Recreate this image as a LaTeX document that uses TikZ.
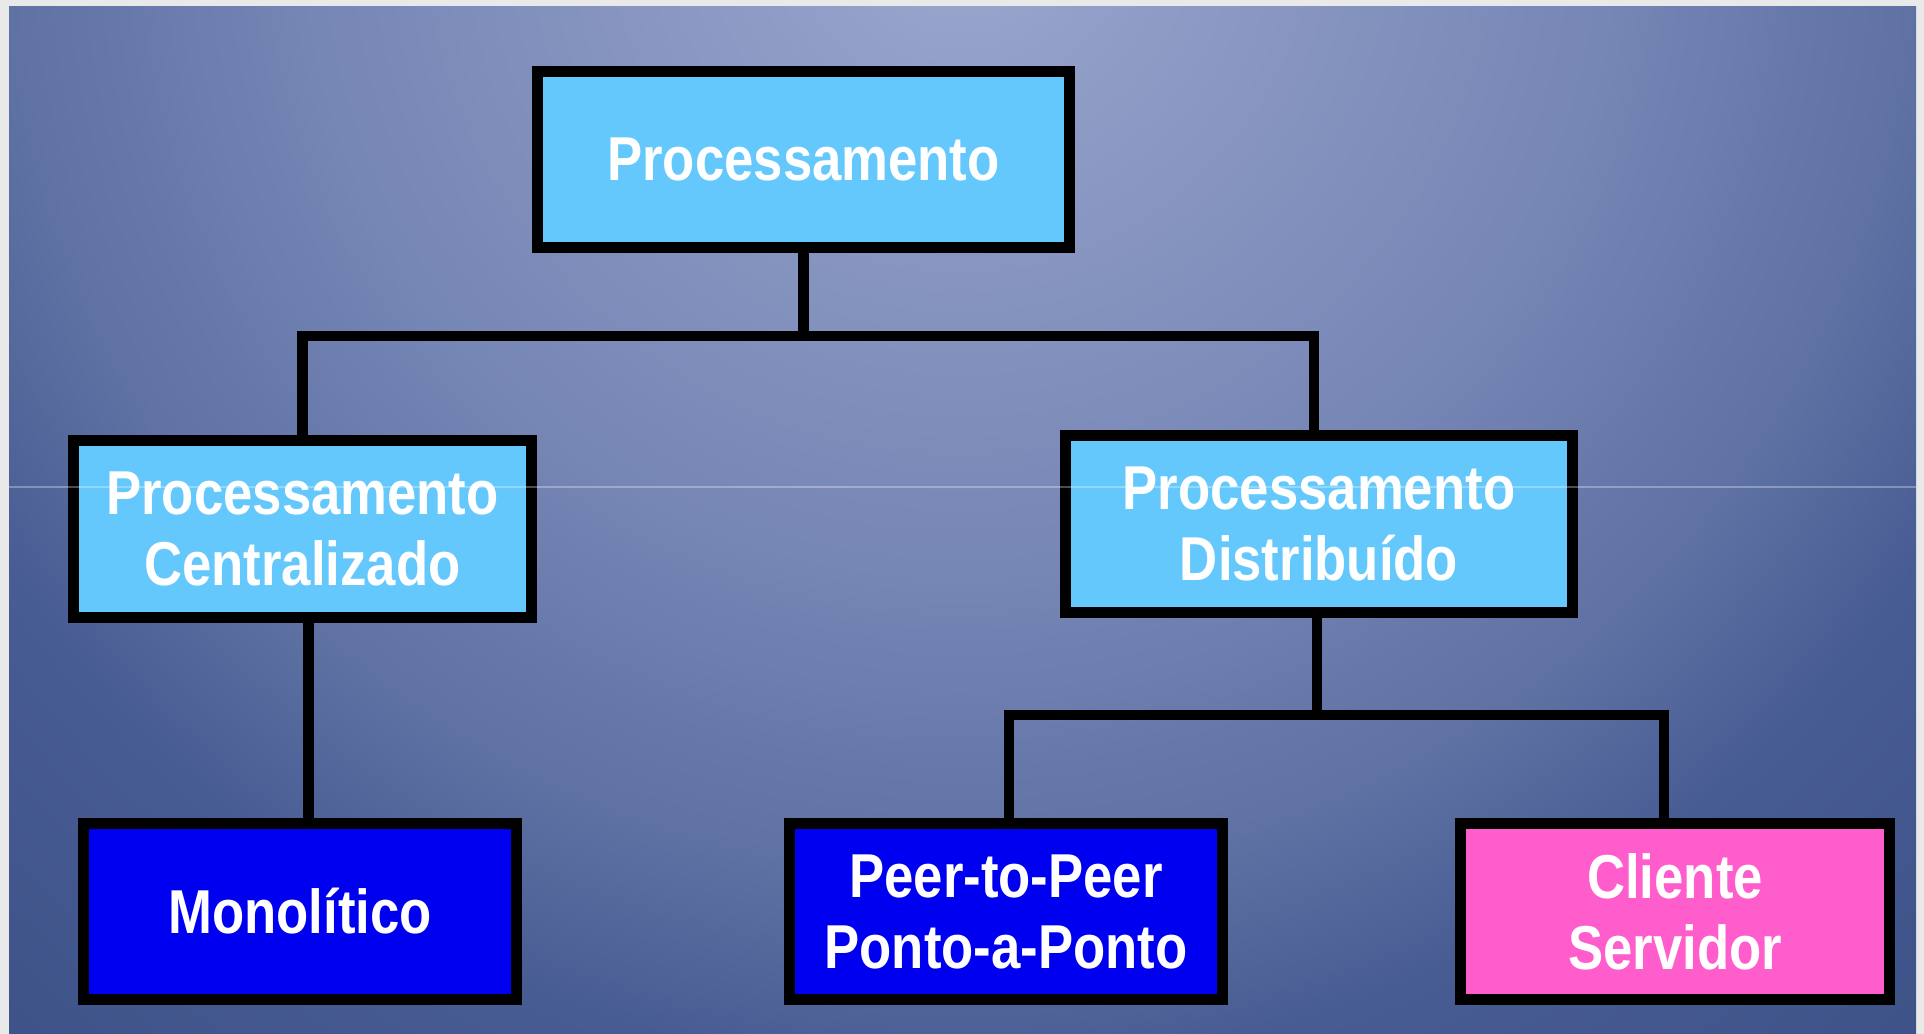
\documentclass[tikz,border=0pt]{standalone}
\usepackage{fontspec}
\setmainfont{Liberation Sans}[FakeStretch=0.85]
\definecolor{pagegray}{RGB}{233,233,233}
\definecolor{bgA}{RGB}{156,169,208}
\definecolor{bgB}{RGB}{146,159,200}
\definecolor{bgC}{RGB}{132,146,190}
\definecolor{bgD}{RGB}{118,134,181}
\definecolor{bgE}{RGB}{102,120,170}
\definecolor{bgF}{RGB}{95,114,163}
\definecolor{bgG}{RGB}{72,92,148}
\definecolor{bgH}{RGB}{62,83,136}
\definecolor{bgI}{RGB}{60,80,134}
\definecolor{lightbox}{RGB}{100,200,252}
\definecolor{deepbox}{RGB}{0,0,240}
\definecolor{pinkbox}{RGB}{255,92,204}
\pgfdeclareradialshading{bgshade}{\pgfpoint{0bp}{0bp}}{%
  color(0bp)=(bgA); color(75bp)=(bgB); color(200bp)=(bgC);
  color(325bp)=(bgD); color(425bp)=(bgE); color(475bp)=(bgF);
  color(575bp)=(bgG); color(725bp)=(bgH); color(800bp)=(bgI)}
\pgfdeclarelayer{bottom}
\pgfdeclarelayer{lines}
\pgfsetlayers{bottom,lines,main}
\begin{document}
\begin{tikzpicture}[x=0.5pt,y=-0.5pt,
  box/.style={draw=black, line width=5.5pt, text=white,
    font=\fontsize{31pt}{35.5pt}\selectfont\bfseries, align=center,
    minimum height=88pt, inner sep=0pt},
  conn/.style={draw=black, line width=5.2pt}]
\useasboundingbox (0,0) rectangle (1924,1034);
\begin{pgfonlayer}{bottom}
  \fill[pagegray] (0,0) rectangle (1924,1034);
  \begin{scope}
    \clip (9,6) rectangle (1916,1034);
    \node[inner sep=0pt, outer sep=0pt] (shade) at (960,-80) {\pgfuseshading{bgshade}};
  \end{scope}
\end{pgfonlayer}

\node[box, fill=lightbox, minimum width=266pt] (top) at (803.5,159.5) {Processamento};
\node[box, fill=lightbox, minimum width=229pt, minimum height=88.5pt] (lm) at (302.5,529) {Processamento\\Centralizado};
\node[box, fill=lightbox, minimum width=253.5pt, minimum height=88.5pt] (rm) at (1319,524) {Processamento\\Distribuído};
\node[box, fill=deepbox, minimum width=216.5pt] (mono) at (300,911.5) {Monolítico};
\node[box, fill=deepbox, minimum width=216.5pt] (peer) at (1006,911.5) {Peer-to-Peer\\Ponto-a-Ponto};
\node[box, fill=pinkbox, minimum width=214.5pt] (cli) at (1675,911.5) {Cliente\\Servidor};

\begin{pgfonlayer}{lines}
  \draw[conn] (top.south) -- ++(0,83) coordinate (j1);
  \draw[conn] (lm.north) |- (j1) -| ([xshift=-2.5pt]rm.north);
  \draw[conn] ([xshift=3pt]lm.south) -- ([xshift=3pt]lm.south |- mono.north);
  \draw[conn] ([xshift=-1pt]rm.south) -- ++(0,97) coordinate (j2);
  \draw[conn] ([xshift=1.5pt]peer.north) |- (j2) -| ([xshift=-5.5pt]cli.north);
\end{pgfonlayer}

\coordinate (hlL) at (9,487);
\coordinate (hlR) at (1916,487);
\draw[white, opacity=0.3, line width=0.8pt] (hlL) -- (hlR);
\end{tikzpicture}
\end{document}
